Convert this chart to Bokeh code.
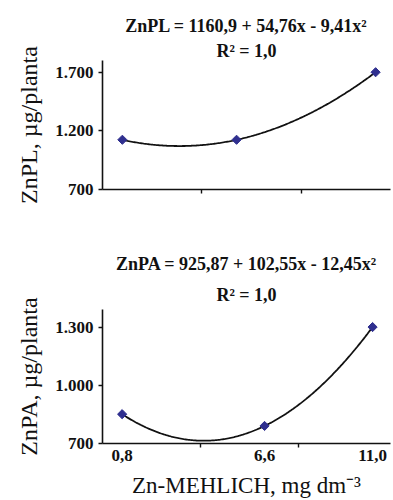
from bokeh.plotting import figure
from bokeh.models import FixedTicker, Range1d, Title
from bokeh.layouts import column
from bokeh.embed import file_html
from bokeh.resources import INLINE
import numpy as np

# ---- data ----
zn_mehlich_pl = [0.8, 5.4, 11.0]
znpl_values = [1124, 1124, 1700]
zn_mehlich_pa = [0.8, 6.6, 11.0]
znpa_values = [852, 791, 1304]

pl_yticks = [700, 1200, 1700]
pl_yticklabels = ["700", "1.200", "1.700"]
pa_yticks = [700, 1000, 1300]
pa_yticklabels = ["700", "1.000", "1.300"]
xticks = [0.8, 6.6, 11.0]
xticklabels = ["0,8", "6,6", "11,0"]
x_minor = [4, 8]

pl_eq = "ZnPL = 1160,9 + 54,76x - 9,41x²"
pa_eq = "ZnPA = 925,87 + 102,55x - 12,45x²"
r2_text = "R² = 1,0"

FONT = "Liberation Serif"
MARK = "#2F2F8F"
INK = "#111111"


def add_titles(p, eq, eq_off, eq_standoff, r2_off, r2_standoff):
    # first added sits nearest to the plot frame
    for txt, off, so in ((r2_text, r2_off, r2_standoff), (eq, eq_off, eq_standoff)):
        p.add_layout(Title(text=txt, align="center", offset=off, standoff=so,
                           text_font=FONT, text_font_style="bold",
                           text_font_size="18px", text_color=INK), "above")


def style(p, yticks, ylabels, ylab):
    p.outline_line_color = None
    p.xgrid.visible = False
    p.ygrid.visible = False
    p.background_fill_color = "white"
    p.border_fill_color = "white"
    ya = p.yaxis[0]
    ya.ticker = FixedTicker(ticks=yticks)
    ya.major_label_overrides = {t: l for t, l in zip(yticks, ylabels)}
    ya.major_tick_in = 0
    ya.major_tick_out = 4
    ya.minor_tick_line_color = None
    ya.axis_line_width = 1.6
    ya.major_tick_line_width = 1.4
    ya.axis_line_color = INK
    ya.major_tick_line_color = INK
    ya.major_label_text_font = FONT
    ya.major_label_text_font_style = "bold"
    ya.major_label_text_font_size = "17px"
    ya.major_label_text_color = INK
    ya.major_label_standoff = 5
    ya.axis_label = ylab
    ya.axis_label_text_font = FONT
    ya.axis_label_text_font_style = "normal"
    ya.axis_label_text_font_size = "24px"
    ya.axis_label_text_color = INK
    ya.axis_label_standoff = 10


def x_axis_common(ax):
    ax.major_tick_out = 0
    ax.major_tick_in = 0
    ax.major_tick_line_color = None
    ax.minor_tick_in = 0
    ax.minor_tick_out = 4
    ax.minor_tick_line_width = 1.4
    ax.minor_tick_line_color = INK
    ax.axis_line_width = 1.6
    ax.axis_line_color = INK


def trend(p, xs, ys):
    c = np.polyfit(xs, ys, 2)
    xx = np.linspace(min(xs), max(xs), 200)
    p.line(xx, np.polyval(c, xx), line_color=INK, line_width=1.8)
    p.scatter(xs, ys, marker="square", size=6.5, angle=np.pi / 4,
              fill_color=MARK, line_color=MARK)


# ---- top chart ----
p1 = figure(width=393, height=220, x_range=Range1d(0, 11.6),
            y_range=Range1d(700, 1800), output_backend="svg",
            toolbar_location=None, min_border_left=102, min_border_right=3,
            min_border_top=60, min_border_bottom=31)
style(p1, pl_yticks, pl_yticklabels, "ZnPL, µg/planta")
xa = p1.xaxis[0]
xa.ticker = FixedTicker(ticks=[], minor_ticks=x_minor)
x_axis_common(xa)
xa.major_label_text_font_size = "0px"
trend(p1, zn_mehlich_pl, znpl_values)
add_titles(p1, pl_eq, -10.5, 5, -20, 0)

# ---- bottom chart ----
p2 = figure(width=393, height=280, x_range=Range1d(0, 11.73),
            y_range=Range1d(700, 1395), output_backend="svg",
            toolbar_location=None, min_border_left=102, min_border_right=0,
            min_border_top=89, min_border_bottom=57)
style(p2, pa_yticks, pa_yticklabels, "ZnPA, µg/planta")
xb = p2.xaxis[0]
xb.ticker = FixedTicker(ticks=xticks, minor_ticks=x_minor)
xb.major_label_overrides = {t: l for t, l in zip(xticks, xticklabels)}
x_axis_common(xb)
xb.major_label_text_font = FONT
xb.major_label_text_font_style = "bold"
xb.major_label_text_font_size = "17px"
xb.major_label_text_color = INK
xb.major_label_standoff = 2
xb.axis_label = "Zn-MEHLICH, mg dm⁻³"
xb.axis_label_text_font = FONT
xb.axis_label_text_font_style = "normal"
xb.axis_label_text_font_size = "23px"
xb.axis_label_text_color = INK
xb.axis_label_standoff = 9
trend(p2, zn_mehlich_pa, znpa_values)
add_titles(p2, pa_eq, -0.5, 8, 1, 10)

layout = column(p1, p2, spacing=0)
open("out.html", "w").write(file_html(layout, INLINE))
